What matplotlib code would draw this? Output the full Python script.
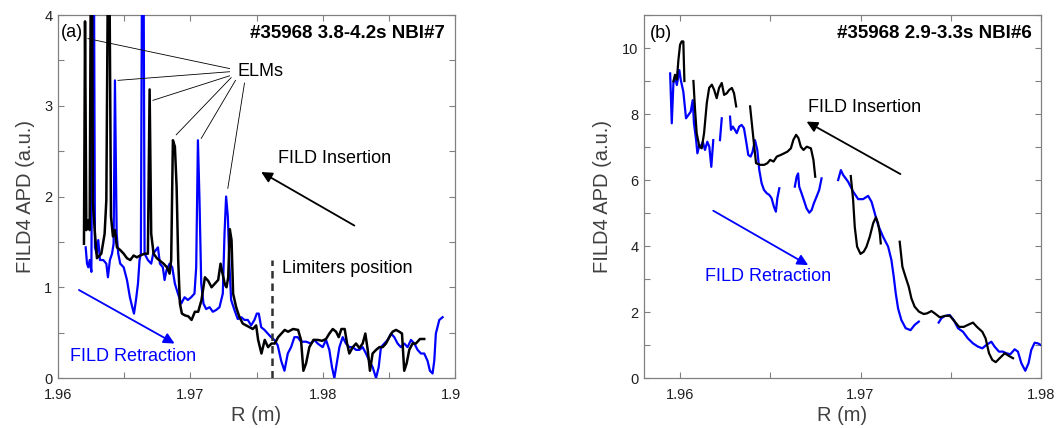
import numpy as np
import matplotlib
matplotlib.use('Agg')
import matplotlib.pyplot as plt
from matplotlib.ticker import MultipleLocator
from matplotlib.patches import Rectangle

plt.rcParams['font.family'] = ['Liberation Sans', 'DejaVu Sans']

# ---- panel (a): #35968 3.8-4.2s NBI#7 ----
# FILD insertion (black)
ins_a_r = [1.96196, 1.96204, 1.96214, 1.96229, 1.96239, 1.96247, 1.96257, 1.96264, 1.96279, 1.96294,
           1.96327, 1.96352, 1.96365, 1.96375, 1.96390, 1.96400, 1.96415, 1.96430, 1.96445, 1.96470,
           1.96496, 1.96521, 1.96546, 1.96571, 1.96596, 1.96621, 1.96654, 1.96679, 1.96692, 1.96704,
           1.96722, 1.96747, 1.96772, 1.96797, 1.96823, 1.96843, 1.96855, 1.96868, 1.96883, 1.96896,
           1.96908, 1.96921, 1.96936, 1.96959, 1.96984, 1.97009, 1.97034, 1.97059, 1.97084, 1.97110,
           1.97135, 1.97160, 1.97185, 1.97210, 1.97228, 1.97243, 1.97261, 1.97273, 1.97286, 1.97298,
           1.97311, 1.97323, 1.97346, 1.97371, 1.97396, 1.97421, 1.97447, 1.97472, 1.97497, 1.97512,
           1.97537, 1.97562, 1.97587, 1.97613, 1.97638, 1.97663, 1.97688, 1.97713, 1.97738, 1.97776,
           1.97814, 1.97836, 1.97854, 1.97874, 1.97899, 1.97930, 1.97962, 1.97995, 1.98025, 1.98050,
           1.98076, 1.98101, 1.98121, 1.98141, 1.98166, 1.98184, 1.98201, 1.98227, 1.98252, 1.98277,
           1.98302, 1.98322, 1.98340, 1.98357, 1.98377, 1.98403, 1.98428, 1.98453, 1.98478, 1.98503,
           1.98528, 1.98554, 1.98579, 1.98599, 1.98616, 1.98634, 1.98654, 1.98679, 1.98704, 1.98735,
           1.98767]
ins_a_v = [1.48, 3.93, 1.63, 1.74, 1.63, 4.3, 4.3, 1.92, 1.59, 1.32,
           1.37, 1.59, 1.96, 4.1, 4.1, 1.78, 1.56, 1.63, 1.44, 1.41,
           1.37, 1.32, 1.30, 1.35, 1.33, 1.35, 1.37, 1.37, 3.18, 1.59,
           1.37, 1.32, 1.29, 1.26, 1.22, 1.15, 1.30, 2.62, 2.55, 2.11,
           1.30, 0.82, 0.71, 0.69, 0.68, 0.64, 0.73, 0.73, 0.86, 1.11,
           1.07, 1.00, 1.04, 1.08, 1.26, 1.15, 1.03, 1.00, 1.11, 1.64,
           1.52, 0.93, 0.78, 0.67, 0.60, 0.58, 0.56, 0.54, 0.58, 0.42,
           0.27, 0.42, 0.34, 0.38, 0.38, 0.45, 0.49, 0.53, 0.51, 0.54,
           0.53, 0.42, 0.08, 0.16, 0.34, 0.42, 0.42, 0.41, 0.43, 0.49,
           0.54, 0.51, 0.45, 0.54, 0.54, 0.38, 0.27, 0.34, 0.38, 0.33,
           0.38, 0.49, 0.31, 0.08, 0.27, 0.31, 0.34, 0.34, 0.38, 0.45,
           0.51, 0.53, 0.51, 0.49, 0.08, 0.16, 0.31, 0.38, 0.38, 0.43,
           0.43]

# FILD retraction (blue)
ret_a_r = [1.96209, 1.96219, 1.96229, 1.96239, 1.96252, 1.96262, 1.96272, 1.96279, 1.96292, 1.96304,
           1.96317, 1.96342, 1.96365, 1.96377, 1.96392, 1.96408, 1.96420, 1.96430, 1.96443, 1.96455,
           1.96470, 1.96496, 1.96521, 1.96543, 1.96561, 1.96574, 1.96589, 1.96604, 1.96616, 1.96626,
           1.96634, 1.96647, 1.96654, 1.96679, 1.96704, 1.96719, 1.96740, 1.96755, 1.96770, 1.96792,
           1.96805, 1.96820, 1.96843, 1.96863, 1.96883, 1.96906, 1.96931, 1.96956, 1.96981, 1.97006,
           1.97031, 1.97044, 1.97057, 1.97069, 1.97082, 1.97099, 1.97119, 1.97145, 1.97170, 1.97195,
           1.97220, 1.97245, 1.97258, 1.97270, 1.97283, 1.97296, 1.97308, 1.97333, 1.97358, 1.97384,
           1.97409, 1.97434, 1.97459, 1.97484, 1.97502, 1.97517, 1.97535, 1.97560, 1.97585, 1.97610,
           1.97635, 1.97660, 1.97686, 1.97711, 1.97736, 1.97761, 1.97786, 1.97811, 1.97836, 1.97874,
           1.97912, 1.97937, 1.97962, 1.98000, 1.98025, 1.98050, 1.98070, 1.98088, 1.98106, 1.98126,
           1.98151, 1.98176, 1.98201, 1.98227, 1.98252, 1.98277, 1.98302, 1.98327, 1.98352, 1.98377,
           1.98403, 1.98423, 1.98440, 1.98465, 1.98491, 1.98516, 1.98541, 1.98566, 1.98591, 1.98616,
           1.98641, 1.98667, 1.98692, 1.98717, 1.98742, 1.98767, 1.98792, 1.98810, 1.98830, 1.98843,
           1.98855, 1.98881, 1.98906]
ret_a_v = [1.44, 1.26, 1.22, 1.30, 1.17, 4.3, 4.3, 1.44, 1.37, 1.52,
           1.30, 1.30, 1.26, 1.11, 1.30, 1.37, 1.48, 3.28, 1.59, 1.37,
           1.26, 1.22, 1.08, 0.89, 0.78, 0.71, 0.86, 1.04, 1.30, 1.37,
           4.3, 4.3, 1.37, 1.30, 1.26, 1.37, 1.41, 1.44, 1.26, 1.22,
           1.08, 1.19, 1.26, 1.22, 1.04, 0.93, 0.82, 0.89, 0.86, 0.89,
           0.93, 1.22, 2.62, 1.96, 1.04, 0.82, 0.76, 0.78, 0.73, 0.75,
           0.78, 0.93, 1.59, 2.00, 1.78, 1.22, 0.86, 0.75, 0.65, 0.67,
           0.64, 0.64, 0.58, 0.64, 0.71, 0.71, 0.56, 0.53, 0.49, 0.45,
           0.42, 0.36, 0.19, 0.08, 0.27, 0.34, 0.45, 0.45, 0.40, 0.40,
           0.38, 0.42, 0.38, 0.34, 0.42, 0.31, 0.12, 0.00, 0.16, 0.34,
           0.45, 0.38, 0.34, 0.34, 0.31, 0.31, 0.34, 0.27, 0.19, 0.12,
           0.00, 0.12, 0.34, 0.38, 0.42, 0.49, 0.45, 0.38, 0.34, 0.38,
           0.34, 0.42, 0.38, 0.31, 0.27, 0.27, 0.19, 0.08, 0.05, 0.19,
           0.49, 0.64, 0.67]

# ELM peaks picked out in panel (a)
elm_r = [1.96226, 1.96453, 1.96717, 1.96893, 1.97082, 1.97283]
elm_v = [3.74, 3.28, 3.06, 2.68, 2.64, 2.09]
limiter_r = 1.97618

# ---- panel (b): #35968 2.9-3.3s NBI#6 ----
ins_b_segs = [
    ([1.95963, 1.95972, 1.95982, 1.95991, 1.96000, 1.96009, 1.96018, 1.96024],
     [8.99, 9.19, 9.04, 9.65, 10.1, 10.2, 10.2, 9.0]),
    ([1.96074, 1.96083, 1.96092, 1.96107, 1.96120, 1.96133, 1.96148, 1.96161, 1.96176, 1.96189,
      1.96203, 1.96216, 1.96231, 1.96244, 1.96259, 1.96272, 1.96287, 1.96299, 1.96311],
     [9.0, 8.13, 7.42, 7.01, 6.96, 7.42, 8.33, 8.79, 8.89, 8.73,
      8.48, 8.79, 8.94, 8.58, 8.63, 8.73, 8.79, 8.63, 8.23]),
    ([1.96388, 1.96407, 1.96421, 1.96444, 1.96466, 1.96484, 1.96499, 1.96518, 1.96536, 1.96558,
      1.96577, 1.96595, 1.96614, 1.96628, 1.96643, 1.96656, 1.96669, 1.96684, 1.96702, 1.96725,
      1.96739, 1.96749],
     [8.23, 7.22, 6.51, 6.46, 6.46, 6.51, 6.61, 6.56, 6.71, 6.76,
      6.81, 6.86, 6.96, 7.22, 7.37, 7.27, 7.01, 6.91, 7.01, 6.96,
      6.61, 6.10]),
    ([1.96946, 1.96959, 1.96968, 1.96981, 1.97000, 1.97018, 1.97033, 1.97051, 1.97070, 1.97085,
      1.97097, 1.97107, 1.97112],
     [6.12, 5.39, 4.58, 3.98, 3.76, 3.83, 3.98, 4.28, 4.69, 4.87,
      4.69, 4.38, 4.08]),
    ([1.97217, 1.97232, 1.97249, 1.97267, 1.97282, 1.97300, 1.97324, 1.97350, 1.97369, 1.97393,
      1.97411, 1.97439, 1.97467, 1.97494, 1.97522, 1.97546, 1.97572, 1.97595, 1.97623, 1.97645,
      1.97675, 1.97693, 1.97712, 1.97730, 1.97749, 1.97771, 1.97799, 1.97822, 1.97845],
     [4.13, 3.37, 3.07, 2.77, 2.41, 2.16, 2.01, 1.94, 1.96, 2.03,
      1.96, 1.84, 1.88, 1.89, 1.71, 1.55, 1.55, 1.61, 1.68, 1.55,
      1.40, 1.20, 0.75, 0.55, 0.48, 0.60, 0.75, 0.67, 0.60]),
]

ret_b_segs = [
    ([1.95945, 1.95954, 1.95963, 1.95972, 1.95982, 1.95996, 1.96004, 1.96018, 1.96033, 1.96046,
      1.96059, 1.96070, 1.96077, 1.96089, 1.96096, 1.96107, 1.96115, 1.96126, 1.96138, 1.96151,
      1.96162, 1.96173, 1.96184],
     [9.23, 7.72, 8.93, 9.13, 8.88, 9.33, 9.03, 8.68, 7.87, 7.97,
      8.07, 8.42, 7.72, 7.21, 6.81, 7.06, 7.01, 7.16, 6.91, 7.16,
      7.01, 6.40, 7.21]),
    ([1.96221, 1.96231], [7.21, 7.87]),
    ([1.96277, 1.96282, 1.96292, 1.96304, 1.96314, 1.96328, 1.96341, 1.96354, 1.96365, 1.96378,
      1.96391, 1.96402, 1.96415, 1.96428, 1.96439, 1.96452, 1.96465, 1.96480, 1.96494, 1.96507,
      1.96520, 1.96531, 1.96539, 1.96550],
     [7.92, 7.52, 7.62, 7.52, 7.42, 7.62, 7.67, 7.57, 7.21, 6.76,
      6.71, 6.86, 7.21, 6.91, 6.30, 5.90, 5.70, 5.60, 5.55, 5.45,
      5.19, 5.04, 5.45, 5.75]),
    ([1.96636, 1.96646, 1.96654, 1.96660, 1.96673, 1.96686, 1.96701, 1.96716, 1.96729, 1.96741,
      1.96756, 1.96771, 1.96784],
     [5.80, 6.10, 6.20, 5.80, 5.60, 5.39, 5.14, 5.01, 5.09, 5.29,
      5.49, 5.70, 6.05]),
    ([1.96876, 1.96891, 1.96904, 1.96931, 1.96959, 1.96987, 1.97014, 1.97042, 1.97061, 1.97079,
      1.97097, 1.97125, 1.97153, 1.97171, 1.97184, 1.97195, 1.97208, 1.97226, 1.97250, 1.97277,
      1.97300, 1.97323],
     [6.00, 6.30, 6.15, 5.95, 5.65, 5.42, 5.42, 5.52, 5.34, 4.99,
      4.64, 4.28, 3.98, 3.58, 3.07, 2.57, 2.11, 1.76, 1.51, 1.45,
      1.61, 1.71]),
    ([1.97433, 1.97448, 1.97467, 1.97494, 1.97516, 1.97540, 1.97568, 1.97595, 1.97623, 1.97651,
      1.97675, 1.97697, 1.97725, 1.97743, 1.97767, 1.97789, 1.97808, 1.97830, 1.97854, 1.97872,
      1.97891, 1.97913, 1.97931, 1.97946, 1.97965, 1.97983, 1.98002],
     [1.68, 1.81, 1.88, 1.91, 1.76, 1.51, 1.40, 1.20, 1.05, 0.95,
      0.90, 1.00, 1.10, 0.95, 0.80, 0.80, 0.75, 0.72, 0.87, 0.80,
      0.45, 0.22, 0.45, 0.85, 1.07, 1.05, 0.99]),
]


def join_segments(segs):
    # put NaN between pieces so the line breaks like in the original
    rr, vv = [], []
    for r, v in segs:
        if rr:
            rr.append(np.nan)
            vv.append(np.nan)
        rr.extend(r)
        vv.extend(v)
    return np.array(rr), np.array(vv)


BLUE = '#0000ff'
AXCOL = '#808080'
LABCOL = '#404040'


def style_axes(ax, xmaj, xmin, ymaj, ymin):
    ax.xaxis.set_major_locator(MultipleLocator(xmaj))
    ax.xaxis.set_minor_locator(MultipleLocator(xmin))
    ax.yaxis.set_major_locator(MultipleLocator(ymaj))
    ax.yaxis.set_minor_locator(MultipleLocator(ymin))
    ax.tick_params(which='both', direction='in', top=True, right=True,
                   length=4, width=0.8, color=AXCOL, labelsize=10.5,
                   labelcolor='#202020')
    ax.tick_params(axis='x', pad=7)
    ax.tick_params(axis='y', pad=4)
    for sp in ax.spines.values():
        sp.set_color(AXCOL)
        sp.set_linewidth(0.9)
    ax.set_xlabel('R (m)', fontsize=14.5, color=LABCOL, labelpad=3)
    ax.set_ylabel('FILD4 APD (a.u.)', fontsize=14.5, color=LABCOL, labelpad=7)


fig = plt.figure(figsize=(10.59, 4.28), dpi=100)
ax1 = fig.add_axes([0.0548, 0.1168, 0.3749, 0.8481])
ax2 = fig.add_axes([0.6081, 0.1168, 0.3749, 0.8481])

# ---- panel (a) ----
ax1.plot(ret_a_r, ret_a_v, color=BLUE, lw=1.6, zorder=3)
ax1.plot(ins_a_r, ins_a_v, color='black', lw=1.8, zorder=4)
ax1.plot([limiter_r, limiter_r], [0, 1.30], color='#303030', lw=1.8,
         dashes=(3, 2), zorder=5)
ax1.set_xlim(1.96, 1.99)
ax1.set_ylim(0, 4)
style_axes(ax1, 0.01, 0.005, 1, 0.5)
ax1.set_xticks([1.96, 1.97, 1.98, 1.99])
ax1.set_xticklabels(['1.96', '1.97', '1.98', '1.99'])

ax1.text(0.008, 0.952, '(a)', transform=ax1.transAxes, fontsize=13,
         ha='left', va='center')
ax1.text(0.975, 0.948, '#35968 3.8-4.2s NBI#7', transform=ax1.transAxes,
         fontsize=13.5, fontweight='bold', ha='right', va='center')
ax1.text(1.97358, 3.375, 'ELMs', fontsize=13, ha='left', va='center')
elm_starts = [(1.97296, 3.41), (1.97296, 3.375), (1.97296, 3.33),
              (1.97308, 3.31), (1.97341, 3.28), (1.97409, 3.25)]
for (r0, v0), r1, v1 in zip(elm_starts, elm_r, elm_v):
    ax1.plot([r0, r1], [v0, v1], color='black', lw=0.6, zorder=6)
ax1.text(1.97660, 2.42, 'FILD Insertion', fontsize=13, ha='left', va='center')
ax1.annotate('', xy=(1.97535, 2.27), xytext=(1.98239, 1.68),
             arrowprops=dict(arrowstyle='-|>', color='black', lw=1.3,
                             mutation_scale=16, shrinkA=0, shrinkB=0))
ax1.annotate('', xy=(1.96881, 0.38), xytext=(1.96158, 0.97),
             arrowprops=dict(arrowstyle='-|>', color=BLUE, lw=1.3,
                             mutation_scale=16, shrinkA=0, shrinkB=0))
ax1.text(1.96088, 0.24, 'FILD Retraction', fontsize=13, color=BLUE,
         ha='left', va='center')
ax1.text(1.97694, 1.21, 'Limiters position', fontsize=13, ha='left', va='center')

# ---- panel (b) ----
rb, vb = join_segments(ret_b_segs)
ib, ivb = join_segments(ins_b_segs)
ax2.plot(rb, vb, color=BLUE, lw=1.6, zorder=3)
ax2.plot(ib, ivb, color='black', lw=1.6, zorder=4)
ax2.set_xlim(1.958, 1.98)
ax2.set_ylim(0, 11)
style_axes(ax2, 0.01, 0.005, 2, 1)

ax2.text(0.015, 0.95, '(b)', transform=ax2.transAxes, fontsize=13,
         ha='left', va='center')
ax2.text(0.977, 0.95, '#35968 2.9-3.3s NBI#6', transform=ax2.transAxes,
         fontsize=13.5, fontweight='bold', ha='right', va='center')
ax2.text(1.96708, 8.21, 'FILD Insertion', fontsize=13, ha='left', va='center')
ax2.annotate('', xy=(1.96701, 7.77), xytext=(1.97221, 6.18),
             arrowprops=dict(arrowstyle='-|>', color='black', lw=1.3,
                             mutation_scale=16, shrinkA=0, shrinkB=0))
ax2.annotate('', xy=(1.96710, 3.42), xytext=(1.96184, 5.07),
             arrowprops=dict(arrowstyle='-|>', color=BLUE, lw=1.3,
                             mutation_scale=16, shrinkA=0, shrinkB=0))
ax2.text(1.96138, 3.07, 'FILD Retraction', fontsize=13, color=BLUE,
         ha='left', va='center')

# the original panel (a) was cropped, so its last tick label is cut off
fig.patches.append(Rectangle((460 / 1059, 0.0), 0.06, 0.11,
                             transform=fig.transFigure, facecolor='white',
                             edgecolor='none', zorder=10))

fig.savefig('out.png', dpi=100)
